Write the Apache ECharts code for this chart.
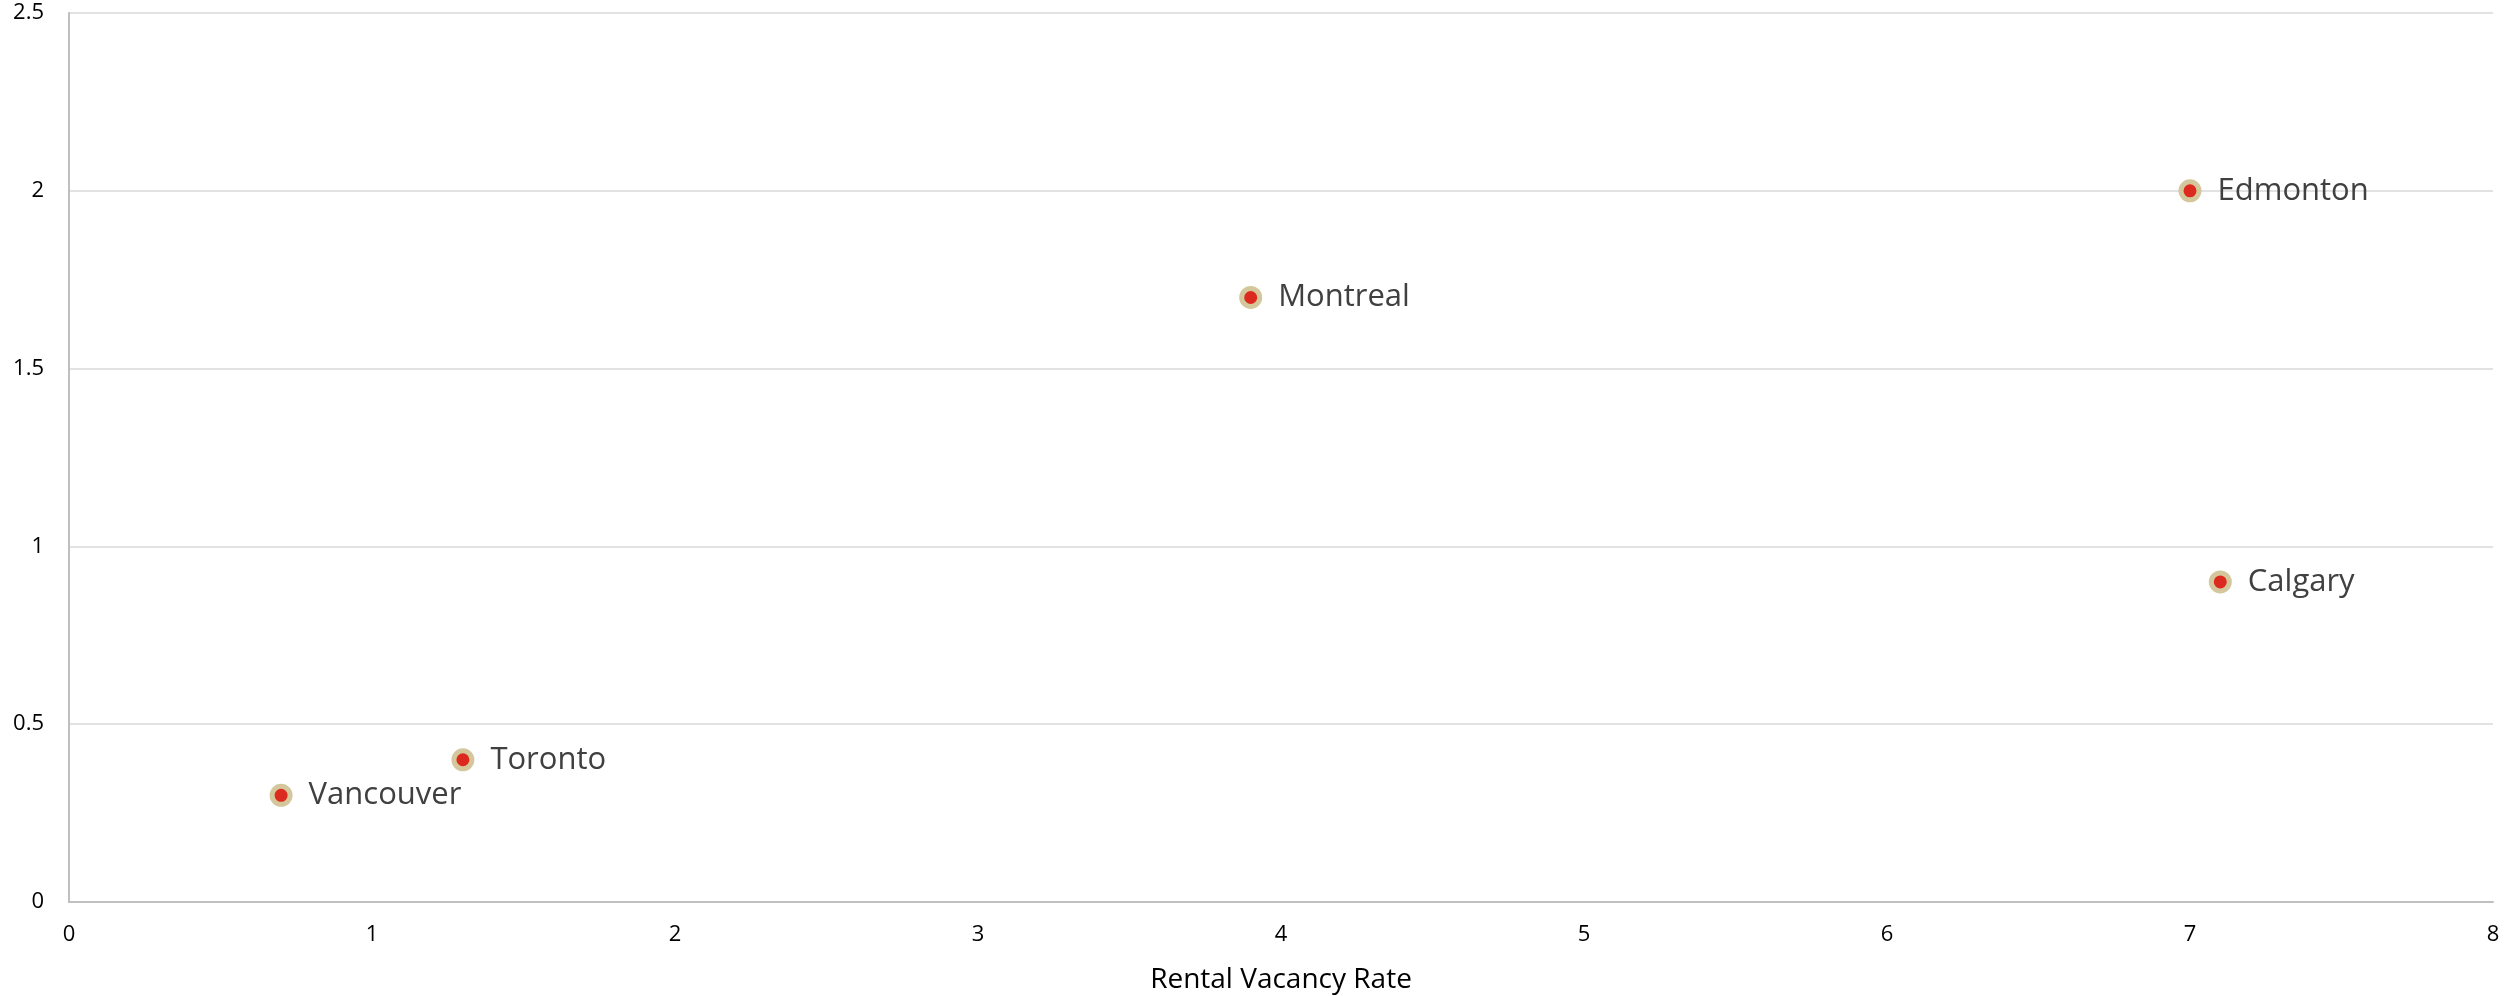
<!DOCTYPE html>
<html>
<head>
<meta charset="utf-8">
<script src="https://cdn.jsdelivr.net/npm/echarts@6/dist/echarts.min.js"></script>
<style>
  html, body { margin: 0; padding: 0; background: #fff; overflow: hidden; }
  #chart { width: 2509px; height: 996px; }
</style>
</head>
<body>
<div id="chart"></div>
<script>
// City names and their (vacancy rate, y value) pairs
const cities = ['Vancouver', 'Toronto', 'Montreal', 'Edmonton', 'Calgary'];
const vacancyRate = [0.7, 1.3, 3.9, 7.0, 7.1];
const yValues = [0.3, 0.4, 1.7, 2.0, 0.9];

const xAxisName = 'Rental Vacancy Rate';

const points = cities.map((name, i) => ({ name: name, value: [vacancyRate[i], yValues[i]] }));

const chart = echarts.init(document.getElementById('chart'));
chart.setOption({
  animation: false,
  backgroundColor: '#ffffff',
  grid: { left: 69, right: 16, top: 13, bottom: 94, containLabel: false, outerBoundsMode: 'none' },
  xAxis: {
    type: 'value',
    min: 0, max: 8, interval: 1,
    name: xAxisName,
    nameLocation: 'middle',
    nameGap: 64,
    nameTextStyle: { fontFamily: 'Open Sans', fontSize: 28, color: '#000' },
    axisLine: { show: true, lineStyle: { color: '#bfbfbf', width: 2 } },
    axisTick: { show: false },
    splitLine: { show: false },
    axisLabel: { fontFamily: 'Open Sans', fontSize: 22, color: '#000', margin: 22 }
  },
  yAxis: {
    type: 'value',
    min: 0, max: 2.5, interval: 0.5,
    axisLine: { show: true, lineStyle: { color: '#bfbfbf', width: 2 } },
    axisTick: { show: false },
    splitLine: { show: true, lineStyle: { color: '#d9d9d9', width: 1.5 } },
    axisLabel: { fontFamily: 'Open Sans', fontSize: 22, color: '#000', margin: 25 }
  },
  series: [{
    type: 'scatter',
    data: points,
    symbol: 'circle',
    symbolSize: 18,
    itemStyle: { color: '#dd2a1e', borderColor: '#d3c79b', borderWidth: 5, opacity: 1 },
    label: {
      show: true,
      position: 'right',
      distance: 16,
      formatter: '{b}',
      fontFamily: 'Open Sans',
      fontSize: 31,
      color: '#404040'
    }
  }]
});
</script>
</body>
</html>
